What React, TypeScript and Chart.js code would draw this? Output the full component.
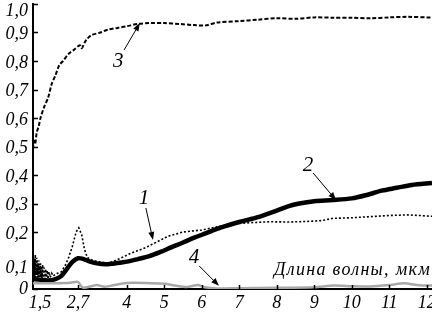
import React, { useEffect, useRef } from "react";
import { Chart, registerables } from "chart.js";

Chart.register(...registerables);

// Axis ticks
const xTickValues = [1.5, 2.7, 4, 5, 6, 7, 8, 9, 10, 11, 12];
const xTickLabels = ["1,5", "2,7", "4", "5", "6", "7", "8", "9", "10", "11", "12"];
const yTickValues = [0, 0.1, 0.2, 0.3, 0.4, 0.5, 0.6, 0.7, 0.8, 0.9, 1.0];
const yTickLabels = ["0", "0,1", "0,2", "0,3", "0,4", "0,5", "0,6", "0,7", "0,8", "0,9", "1,0"];
const xAxisTitle = "Длина волны, мкм";

// Curve 1 (dotted)
const curve1X = [1.5, 1.51, 1.52, 1.53, 1.54, 1.55, 1.56, 1.57, 1.58, 1.59, 1.6, 1.61, 1.62, 1.63, 1.64, 1.65, 1.66, 1.67, 1.68, 1.69, 1.7, 1.71, 1.72, 1.74, 1.76, 1.78, 1.8, 1.82, 1.84, 1.86, 1.88, 1.9, 1.93, 1.96, 2.0, 2.04, 2.08, 2.15, 2.25, 2.35, 2.45, 2.55, 2.65, 2.72, 2.8, 2.87, 2.95, 3.1, 3.3, 3.5, 3.7, 3.9, 4.1, 4.3, 4.5, 4.8, 5.1, 5.5, 6.0, 6.4, 6.8, 7.2, 7.8, 8.3, 8.8, 9.2, 9.5, 10.0, 10.5, 11.0, 11.5, 11.8, 12.14];
const curve1Y = [0.12, 0.04, 0.11, 0.05, 0.1, 0.03, 0.12, 0.05, 0.09, 0.04, 0.11, 0.05, 0.1, 0.04, 0.09, 0.03, 0.1, 0.05, 0.08, 0.04, 0.09, 0.04, 0.08, 0.035, 0.085, 0.04, 0.075, 0.035, 0.07, 0.04, 0.065, 0.035, 0.06, 0.04, 0.055, 0.045, 0.05, 0.055, 0.06, 0.08, 0.11, 0.15, 0.2, 0.215, 0.19, 0.14, 0.11, 0.1, 0.095, 0.09, 0.1, 0.112, 0.125, 0.135, 0.145, 0.165, 0.185, 0.2, 0.207, 0.218, 0.228, 0.232, 0.236, 0.235, 0.237, 0.24, 0.248, 0.25, 0.254, 0.258, 0.26, 0.258, 0.255];

// Curve 2 (thick solid)
const curve2X = [1.5, 1.7, 1.9, 2.1, 2.25, 2.4, 2.55, 2.7, 2.85, 3.0, 3.2, 3.45, 3.7, 4.0, 4.3, 4.6, 4.9, 5.2, 5.5, 5.8, 6.1, 6.5, 7.0, 7.5, 8.0, 8.3, 8.6, 9.0, 9.5, 10.0, 10.4, 10.8, 11.2, 11.6, 12.14];
const curve2Y = [0.035, 0.032, 0.03, 0.035, 0.045, 0.07, 0.095, 0.108, 0.105, 0.097, 0.09, 0.087, 0.09, 0.096, 0.105, 0.115, 0.13, 0.147, 0.163, 0.18, 0.195, 0.215, 0.235, 0.252, 0.275, 0.29, 0.3, 0.308, 0.312, 0.318, 0.33, 0.345, 0.355, 0.365, 0.372];

// Curve 3 (dashed)
const curve3X = [1.5, 1.53, 1.56, 1.6, 1.65, 1.7, 1.8, 1.9, 2.0, 2.1, 2.2, 2.3, 2.45, 2.6, 2.75, 2.8, 2.9, 3.05, 3.3, 3.5, 3.75, 4.0, 4.3, 4.6, 5.0, 5.4, 5.8, 6.1, 6.4, 7.0, 7.5, 8.0, 8.5, 9.0, 9.5, 10.0, 10.5, 11.0, 11.5, 12.14];
const curve3Y = [0.49, 0.52, 0.51, 0.55, 0.57, 0.6, 0.64, 0.67, 0.72, 0.75, 0.785, 0.8, 0.825, 0.84, 0.855, 0.845, 0.87, 0.89, 0.9, 0.91, 0.916, 0.922, 0.93, 0.933, 0.933, 0.93, 0.926, 0.925, 0.935, 0.94, 0.945, 0.95, 0.948, 0.953, 0.952, 0.952, 0.95, 0.953, 0.955, 0.952];

// Curve 4 (gray)
const curve4X = [1.5, 2.0, 2.5, 2.7, 2.78, 2.85, 3.0, 3.2, 3.4, 3.6, 4.0, 4.5, 5.0, 5.3, 5.6, 5.9, 6.05, 6.4, 7.0, 8.0, 9.0, 9.5, 10.0, 10.5, 11.0, 11.4, 11.8, 12.14];
const curve4Y = [0.02, 0.02, 0.022, 0.025, 0.01, 0.004, 0.008, 0.014, 0.008, 0.012, 0.021, 0.021, 0.018, 0.012, 0.007, 0.014, 0.007, 0.002, 0.003, 0.004, 0.006, 0.012, 0.01, 0.009, 0.014, 0.02, 0.013, 0.012];

// Curve annotations: label, label position, arrow start, arrow end (data coords)
const annoLabels = ["1", "2", "3", "4"];
const annoLabelX = [4.46, 8.83, 3.77, 5.79];
const annoLabelY = [0.319, 0.435, 0.8, 0.112];
const annoFromX = [4.51, 8.97, 3.93, 5.93];
const annoFromY = [0.284, 0.407, 0.839, 0.081];
const annoToX = [4.7, 9.58, 4.35, 6.46];
const annoToY = [0.172, 0.312, 0.933, 0.011];

const toPts = (xs: number[], ys: number[]) => xs.map((x, i) => ({ x, y: ys[i] }));

const FONT = "'Liberation Serif', 'DejaVu Serif', serif";

const overlayPlugin = {
  id: "overlay",
  afterDraw(chart: any) {
    const ctx = chart.ctx;
    const xs = chart.scales.x;
    const ys = chart.scales.y;
    const area = chart.chartArea;
    ctx.save();
    ctx.strokeStyle = "#000";
    ctx.fillStyle = "#000";
    ctx.lineWidth = 1.5;
    // tick marks (inward)
    yTickValues.forEach((v) => {
      const py = Math.round(ys.getPixelForValue(v)) + 0.5;
      ctx.beginPath();
      ctx.moveTo(area.left, py);
      ctx.lineTo(area.left + 5, py);
      ctx.stroke();
    });
    xTickValues.forEach((v, i) => {
      if (i === 0) return;
      const px = Math.round(xs.getPixelForValue(v)) + 0.5;
      ctx.beginPath();
      ctx.moveTo(px, area.bottom);
      ctx.lineTo(px, area.bottom - 4);
      ctx.stroke();
    });
    // y labels
    ctx.font = `italic 18px ${FONT}`;
    ctx.textAlign = "right";
    ctx.textBaseline = "middle";
    yTickValues.forEach((v, i) => {
      let py = ys.getPixelForValue(v) + 2;
      if (i === yTickValues.length - 1) py = ys.getPixelForValue(v) + 7;
      if (i === 1) py += 6;
      if (i === 0) py -= 2;
      ctx.fillText(yTickLabels[i], 28, py);
    });
    // x labels
    ctx.textAlign = "center";
    ctx.textBaseline = "middle";
    xTickValues.forEach((v, i) => {
      let px = xs.getPixelForValue(v);
      if (i === 0) px += 7;
      ctx.fillText(xTickLabels[i], px, area.bottom + 14);
    });
    // axis title
    ctx.font = `italic 18px ${FONT}`;
    ctx.textAlign = "right";
    (ctx as any).letterSpacing = "1.3px";
    ctx.fillText(xAxisTitle, area.right - 1, ys.getPixelForValue(0.067));
    (ctx as any).letterSpacing = "0px";
    // annotations
    ctx.font = `italic 21px ${FONT}`;
    ctx.textAlign = "center";
    ctx.lineWidth = 1;
    annoLabels.forEach((t, i) => {
      ctx.fillText(t, xs.getPixelForValue(annoLabelX[i]), ys.getPixelForValue(annoLabelY[i]));
      const x1 = xs.getPixelForValue(annoFromX[i]);
      const y1 = ys.getPixelForValue(annoFromY[i]);
      const x2 = xs.getPixelForValue(annoToX[i]);
      const y2 = ys.getPixelForValue(annoToY[i]);
      const ang = Math.atan2(y2 - y1, x2 - x1);
      const hl = 8;
      const hw = 3;
      const bx = x2 - hl * Math.cos(ang);
      const by = y2 - hl * Math.sin(ang);
      ctx.beginPath();
      ctx.moveTo(x1, y1);
      ctx.lineTo(bx, by);
      ctx.stroke();
      ctx.beginPath();
      ctx.moveTo(x2, y2);
      ctx.lineTo(bx + hw * Math.sin(ang), by - hw * Math.cos(ang));
      ctx.lineTo(bx - hw * Math.sin(ang), by + hw * Math.cos(ang));
      ctx.closePath();
      ctx.fill();
    });
    ctx.restore();
  },
};

export default function App() {
  const ref = useRef<HTMLCanvasElement | null>(null);
  useEffect(() => {
    if (!ref.current) return;
    const chart = new Chart(ref.current, {
      type: "line",
      data: {
        datasets: [
          {
            data: toPts(curve4X, curve4Y),
            borderColor: "#a8a8a8",
            borderWidth: 2.5,
            pointRadius: 0,
            tension: 0.2,
          },
          {
            data: toPts(curve1X, curve1Y),
            borderColor: "#000",
            borderWidth: 1.6,
            borderDash: [2, 2],
            pointRadius: 0,
            tension: 0,
          },
          {
            data: toPts(curve3X, curve3Y),
            borderColor: "#000",
            borderWidth: 2,
            borderDash: [4, 2],
            pointRadius: 0,
            tension: 0.3,
          },
          {
            data: toPts(curve2X, curve2Y),
            borderColor: "#000",
            borderWidth: 4.5,
            pointRadius: 0,
            tension: 0.3,
          },
        ],
      },
      options: {
        responsive: false,
        animation: false,
        layout: { padding: { top: 4, right: 0, left: 0, bottom: 0 } },
        plugins: { legend: { display: false }, tooltip: { enabled: false } },
        scales: {
          x: {
            type: "linear",
            min: 1.5,
            max: 12.14,
            grid: { display: false },
            ticks: { display: false },
            border: { display: true, color: "#000", width: 2 },
            afterFit: (s: any) => {
              s.height = 25;
            },
          },
          y: {
            type: "linear",
            min: 0,
            max: 1.0,
            grid: { display: false },
            ticks: { display: false },
            border: { display: true, color: "#000", width: 2 },
            afterFit: (s: any) => {
              s.width = 33;
            },
          },
        },
      },
      plugins: [overlayPlugin],
    });
    return () => chart.destroy();
  }, []);
  return (
    <div style={{ position: "absolute", left: 0, top: 0, width: 432, height: 314, background: "#fff" }}>
      <canvas ref={ref} width={432} height={314} style={{ width: 432, height: 314 }} />
    </div>
  );
}
